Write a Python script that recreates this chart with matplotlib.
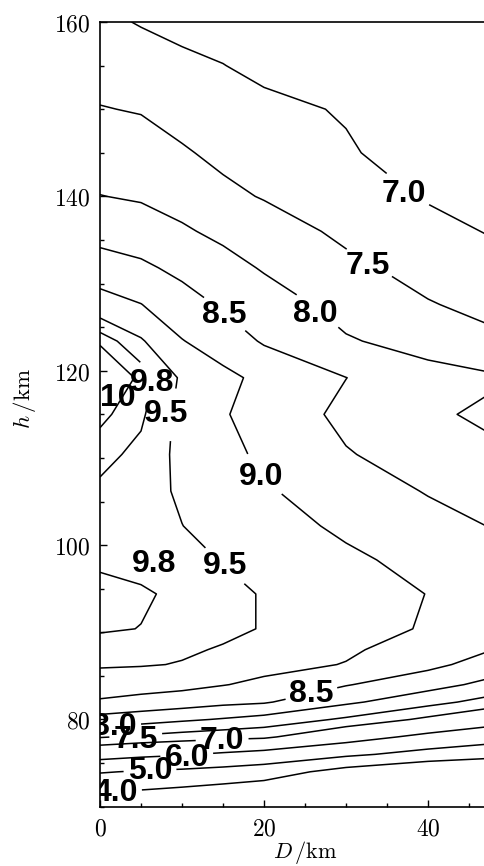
import numpy as np
import matplotlib
matplotlib.use('Agg')
import matplotlib.pyplot as plt
from matplotlib.ticker import MultipleLocator, FuncFormatter

plt.rcParams['mathtext.fontset'] = 'cm'

# grid nodes (km)
D = [0, 5, 10, 15, 20, 30, 40, 50]
h = [70, 72, 74, 76, 78, 80, 82, 84, 86.3, 88, 90.4, 94.4, 98.3, 102.2, 106.2,
     110.4, 115, 119.2, 123.4, 127.6, 131.8, 136, 140, 145, 150, 155, 160]

# field values, one column of h for each D
z_d0 = [3.20, 4.10, 5.07, 6.40, 7.54, 8.32, 8.94, 9.26, 9.55, 9.68, 9.83, 9.87, 9.76, 9.65,
        9.75, 9.88, 10.06, 10.15, 9.98, 9.22, 8.71, 8.33, 8.01, 7.76, 7.52, 7.31, 7.10]
z_d5 = [3.10, 4.04, 4.91, 6.21, 7.41, 8.21, 8.83, 9.21, 9.53, 9.62, 9.795, 9.83, 9.72, 9.62,
        9.66, 9.73, 9.85, 9.97, 9.55, 9.01, 8.59, 8.23, 7.95, 7.71, 7.47, 7.22, 6.97]
z_d10 = [3.00, 3.89, 4.81, 6.07, 7.29, 8.08, 8.74, 9.14, 9.48, 9.55, 9.63, 9.75, 9.63, 9.505,
         9.44, 9.40, 9.39, 9.44, 9.02, 8.70, 8.38, 8.06, 7.82, 7.55, 7.32, 7.10, 6.87]
z_d15 = [2.80, 3.71, 4.67, 5.87, 7.19, 7.96, 8.62, 9.02, 9.25, 9.47, 9.58, 9.62, 9.48, 9.35,
         9.25, 9.14, 9.04, 9.12, 8.76, 8.44, 8.17, 7.89, 7.61, 7.39, 7.23, 7.01, 6.80]
z_d20 = [2.60, 3.50, 4.50, 5.67, 7.11, 7.82, 8.55, 8.89, 9.16, 9.33, 9.48, 9.47, 9.36, 9.20,
         9.05, 8.91, 8.80, 8.88, 8.45, 8.22, 7.96, 7.73, 7.47, 7.27, 7.12, 6.88, 6.65]
z_d30 = [2.60, 3.10, 3.61, 5.18, 6.40, 7.42, 8.09, 8.53, 8.98, 9.07, 9.22, 9.24, 9.09, 8.91,
         8.76, 8.53, 8.39, 8.505, 8.04, 7.84, 7.61, 7.40, 7.21, 7.05, 6.96, 6.65, 6.40]
z_d40 = [2.30, 2.60, 3.00, 4.67, 5.76, 6.88, 7.68, 8.18, 8.63, 8.77, 8.95, 8.99, 8.85, 8.67,
         8.47, 8.30, 8.11, 8.15, 7.84, 7.53, 7.33, 7.14, 6.96, 6.78, 6.62, 6.45, 6.30]
z_d50 = [2.20, 2.60, 3.30, 4.15, 5.38, 6.24, 7.18, 7.77, 8.18, 8.43, 8.57, 8.69, 8.57, 8.43,
         8.24, 8.06, 7.80, 8.02, 7.55, 7.32, 7.11, 6.92, 6.75, 6.58, 6.42, 6.28, 6.15]

levels = [4.0, 5.0, 6.0, 7.0, 7.5, 8.0, 8.5, 9.0, 9.5, 9.8, 10.0]

# which level is labelled, where, and how much line is cut out under the label
lab_levels = [7.0, 7.5, 8.0, 8.5, 9.8, 10.0, 9.5, 9.0, 9.8, 9.5, 8.5, 8.0, 7.5, 7.0, 6.0, 5.0, 4.0]
lab_xy = [(37.1, 140.3), (32.6, 132.0), (26.2, 126.5), (15.1, 126.4), (6.3, 118.6),
          (2.2, 116.9), (8.1, 115.0), (19.6, 107.8), (6.6, 97.8), (15.2, 97.6),
          (25.8, 82.9), (1.8, 79.1), (4.4, 77.6), (14.9, 77.5), (10.6, 75.6),
          (6.1, 74.1), (1.9, 71.6)]
lab_gap = [1, 1, 1, 1, 1, -19, 1, 1, None, 1, 1, 1, 1, 1, 1, 1, 1]

Z = np.array([z_d0, z_d5, z_d10, z_d15, z_d20, z_d30, z_d40, z_d50]).T

fig = plt.figure(figsize=(4.85, 8.66), dpi=100)
ax = fig.add_axes([0.2062, 0.0685, 0.7938, 0.9061])
ax.set_xlim(0, 46.95)
ax.set_ylim(70, 160)

# one contour set per level so each label sits on its own line
for lv in levels:
    cs = ax.contour(D, h, Z, levels=[lv], colors='k', linewidths=1.1)
    txt = '10' if lv == 10 else '%.1f' % lv
    for l, xy, gap in zip(lab_levels, lab_xy, lab_gap):
        if l != lv:
            continue
        t = ax.clabel(cs, manual=[xy], inline=gap is not None,
                      inline_spacing=gap or 0, fmt={lv: txt}, fontsize=23)[-1]
        t.set_rotation(0)
        t.set_position(xy)
        t.set_fontfamily('Liberation Sans')
        t.set_fontweight('bold')

for s in ['top', 'left', 'bottom']:
    ax.spines[s].set_linewidth(1.2)
ax.spines['right'].set_visible(False)

ax.xaxis.set_major_locator(MultipleLocator(20))
ax.xaxis.set_minor_locator(MultipleLocator(5))
ax.yaxis.set_major_locator(MultipleLocator(20))
ax.yaxis.set_minor_locator(MultipleLocator(5))
tf = FuncFormatter(lambda v, p: '$%d$' % v)
ax.xaxis.set_major_formatter(tf)
ax.yaxis.set_major_formatter(tf)
ax.tick_params(which='both', direction='in', top=False, right=False, width=1)
ax.tick_params(which='major', length=5, labelsize=17, pad=7)
ax.tick_params(which='minor', length=3)

ax.set_xlabel(r'$D\,/\mathrm{km}$', fontsize=16)
ax.set_ylabel(r'$h\,/\mathrm{km}$', fontsize=16.5)
ax.xaxis.set_label_coords(0.532, -0.041)
ax.yaxis.set_label_coords(-0.16, 0.52)

fig.savefig('out.png', dpi=100)
